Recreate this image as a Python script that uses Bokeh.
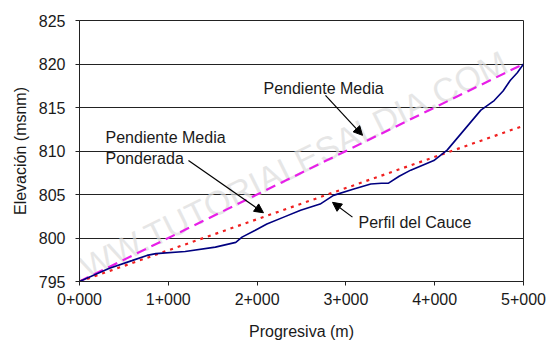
from bokeh.plotting import figure
from bokeh.models import Range1d, FixedTicker, Arrow, NormalHead, Label
from bokeh.core.properties import value
from bokeh.embed import file_html
from bokeh.resources import INLINE

# Data
prog = [0, 330, 590, 760, 860, 1190, 1530, 1760, 1830, 1980, 2110,
        2300, 2490, 2710, 2860, 3080, 3280, 3400, 3480, 3600, 3730, 3870, 3990,
        4140, 4330, 4520, 4670, 4770, 4850, 4930, 5000]
elev_cauce = [795.0, 796.5, 797.4, 798.0, 798.2, 798.45, 798.95, 799.5, 800.1,
              800.9, 801.6, 802.4, 803.2, 803.9, 804.9, 805.6,
              806.2, 806.3, 806.3, 807.1, 807.8, 808.4, 808.9, 810.1, 812.4,
              814.7, 815.8, 816.9, 818.1, 819.0, 820.0]
prog_media = [0, 5000]
elev_media = [795.0, 820.0]
prog_ponderada = [0, 5000]
elev_ponderada = [795.0, 812.9]

x_ticks = [0, 1000, 2000, 3000, 4000, 5000]
x_labels = ["0+000", "1+000", "2+000", "3+000", "4+000", "5+000"]
y_ticks = [795, 800, 805, 810, 815, 820, 825]

FONT = "Liberation Sans"
TXT = "#1a1a1a"

p = figure(width=554, height=352, output_backend="svg", toolbar_location=None,
           x_range=Range1d(0, 5000), y_range=Range1d(795, 825),
           min_border_left=79, min_border_right=31, min_border_top=20,
           min_border_bottom=71)
p.background_fill_color = "white"
p.border_fill_color = "white"
p.outline_line_color = "#222222"
p.outline_line_width = 1

# watermark
p.text(x=[2250], y=[807.6], text=["WWW.TUTORIALESALDIA.COM"], angle=0.46,
       text_font=value(FONT), text_font_size="34px", text_color="#dcdcdc",
       text_align="center", text_baseline="middle", text_alpha=0.7)

p.line(prog_media, elev_media, line_color="#e81ee8", line_width=2.2,
       line_dash="10 6")
p.line(prog_ponderada, elev_ponderada, line_color="#f02020", line_width=2.2,
       line_dash="3 5")
p.line(prog, elev_cauce, line_color="#000080", line_width=1.6)

# axes
for ax in (p.xaxis[0], p.yaxis[0]):
    ax.major_label_text_font = FONT
    ax.major_label_text_font_size = "16px"
    ax.major_label_text_color = TXT
    ax.axis_label_text_font = FONT
    ax.axis_label_text_font_size = "16px"
    ax.axis_label_text_font_style = "normal"
    ax.axis_label_text_color = TXT
    ax.axis_line_color = "#222222"
    ax.major_tick_line_color = "#222222"
    ax.major_tick_in = 0
    ax.major_tick_out = 4
    ax.minor_tick_line_color = None

p.xaxis.ticker = FixedTicker(ticks=x_ticks)
p.xaxis.major_label_overrides = dict(zip(x_ticks, x_labels))
p.xaxis.axis_label = "Progresiva (m)"
p.xaxis.major_label_standoff = 7
p.xaxis.axis_label_standoff = 15

p.yaxis.ticker = FixedTicker(ticks=y_ticks)
p.yaxis.axis_label = "Elevación (msnm)"
p.yaxis.major_label_standoff = 10
p.yaxis.axis_label_standoff = 7

p.xgrid.grid_line_color = None
p.ygrid.grid_line_color = "#222222"
p.ygrid.grid_line_width = 1

# annotations
def lab(x, y, t):
    p.add_layout(Label(x=x, y=y, text=t, text_font=FONT, text_font_size="16px",
                       text_color=TXT, text_baseline="middle", text_align="left"))

lab(2072, 817.2, "Pendiente Media")
lab(293, 811.55, "Pendiente Media")
lab(293, 809.1, "Ponderada")
lab(3142, 801.8, "Perfil del Cauce")

def arrow(x0, y0, x1, y1):
    p.add_layout(Arrow(end=NormalHead(size=9, fill_color="black", line_color="black"),
                       x_start=x0, y_start=y0, x_end=x1, y_end=y1,
                       line_color="black", line_width=1.2))

arrow(2770, 816.4, 3187, 811.8)
arrow(1227, 808.9, 2072, 802.9)
arrow(3074, 802.4, 2849, 804.1)

open("out.html", "w").write(file_html(p, INLINE))
